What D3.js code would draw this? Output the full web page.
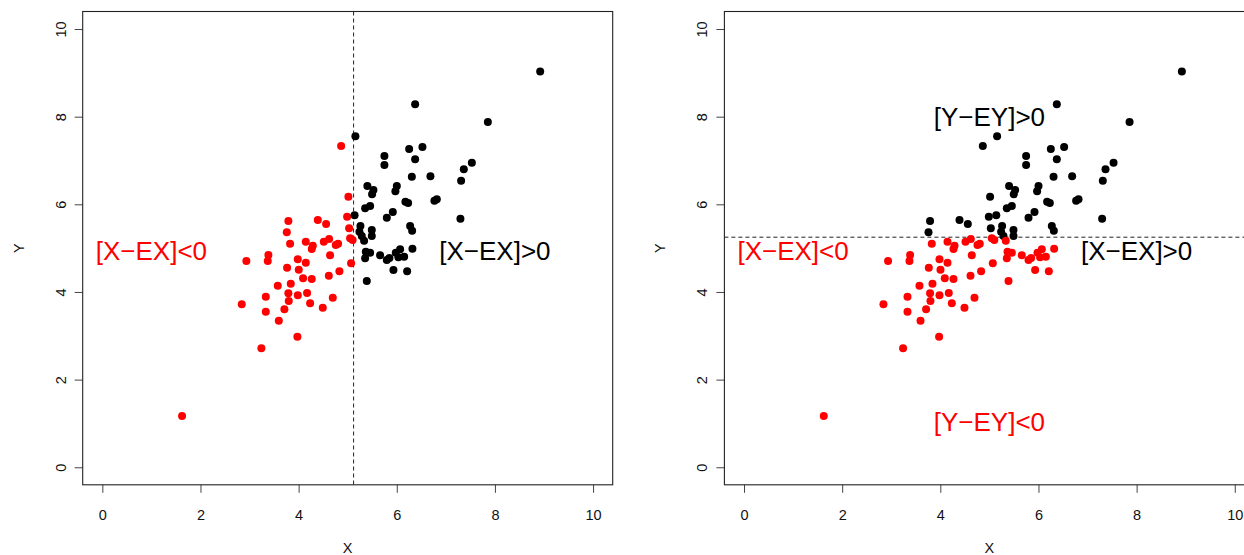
<!DOCTYPE html>
<html><head><meta charset="utf-8">
<script src="https://cdn.jsdelivr.net/npm/d3@7"></script>
<style>html,body{margin:0;padding:0;background:#fff;}svg{display:block;font-family:"Liberation Sans",Arial,Helvetica,sans-serif;}</style>
</head><body>
<svg id="chart" width="1244" height="555"></svg>
<script>
// ---- data ----
const pointX = [
 3.791,4.391,4.560,4.988,5.029,3.759,3.826,4.146,4.289,4.268,4.513,4.621,4.757,4.804,5.049,5.100,
 2.935,3.384,3.371,3.983,4.146,4.641,5.069,3.765,4.003,4.091,4.268,4.615,4.831,3.575,3.840,3.331,
 3.791,3.983,4.172,3.799,4.234,4.696,2.841,3.331,3.710,4.492,3.596,3.975,3.241,1.625,4.866,5.014,
 6.307,6.686,5.401,5.524,5.497,6.001,5.972,6.767,6.816,6.176,6.231,5.355,5.457,5.919,5.797,5.140,
 6.272,6.313,5.259,5.491,5.239,5.287,5.334,5.491,5.369,5.457,5.355,5.660,5.797,5.850,5.980,6.068,
 6.033,6.150,6.319,5.932,6.211,5.389,6.374,7.856,5.157,6.252,6.523,5.748,5.748,6.374,7.530,7.366,
 7.311,7.297,8.922
];
const pointY = [
 5.619,5.642,5.551,5.718,5.453,5.362,5.101,5.147,5.056,4.981,5.147,5.209,5.072,5.101,5.225,5.186,
 4.707,4.844,4.707,4.746,4.668,4.837,4.654,4.554,4.508,4.312,4.296,4.371,4.472,4.143,4.189,3.892,
 3.970,3.924,3.977,3.794,3.742,3.870,3.719,3.550,3.605,3.641,3.345,2.980,2.715,1.170,7.331,6.174,
 6.630,6.639,6.418,6.327,6.229,6.418,6.297,6.083,6.115,6.060,6.030,5.909,5.962,5.825,5.695,5.749,
 5.505,5.398,5.505,5.414,5.375,5.277,5.170,5.277,4.919,4.896,4.768,4.837,4.730,4.775,4.896,4.974,
 4.791,4.805,4.987,4.502,4.472,4.250,8.282,7.878,7.552,7.262,7.308,7.102,6.897,7.027,6.950,6.799,
 6.539,5.672,9.030
];
const meanX = 5.12;   // EX (vertical dashed line, left panel)
const meanY = 5.25;   // EY (horizontal dashed line, right panel)
const tickValues = [0, 2, 4, 6, 8, 10];
const axisDomain = [-0.4, 10.4];
const leftLabels = [
  {text: "[X\u2212EX]<0", x: 1, y: 4.94, color: "#FF0000"},
  {text: "[X\u2212EX]>0", x: 8, y: 4.94, color: "#000000"}
];
const rightLabels = [
  {text: "[X\u2212EX]<0", x: 1, y: 4.94, color: "#FF0000"},
  {text: "[X\u2212EX]>0", x: 8, y: 4.94, color: "#000000"},
  {text: "[Y\u2212EY]>0", x: 5, y: 8.0, color: "#000000"},
  {text: "[Y\u2212EY]<0", x: 5, y: 1.03, color: "#FF0000"}
];

const svg = d3.select("#chart");
const pts = pointX.map((x, i) => ({x, y: pointY[i]}));

function panel(left, labels, mode) {
  const x = d3.scaleLinear().domain(axisDomain).range([left, left + 530]);
  const y = d3.scaleLinear().domain(axisDomain).range([484.8, 11.5]);
  const g = svg.append("g");

  // axes (R style: ticks hanging out of the box)
  const xa = g.append("g").attr("transform", `translate(0,${y(-0.4)})`)
    .call(d3.axisBottom(x).tickValues(tickValues).tickSize(8).tickPadding(17).tickFormat(d3.format("d")));
  const ya = g.append("g").attr("transform", `translate(${x(-0.4)},0)`)
    .call(d3.axisLeft(y).tickValues(tickValues).tickSize(8).tickFormat(d3.format("d")));
  [xa, ya].forEach(a => {
    a.select(".domain").remove();
    a.selectAll(".tick line").attr("stroke", "#444");
    a.selectAll("text").attr("font-size", 14.5).attr("fill", "#111")
      .attr("font-family", "Liberation Sans, Arial, sans-serif");
  });
  ya.selectAll(".tick text").attr("transform", `translate(-22,0) rotate(-90)`)
    .attr("x", 0).attr("y", 0).attr("dy", "0.35em").attr("text-anchor", "middle");

  // box
  g.append("rect").attr("x", x(-0.4)).attr("y", y(10.4))
    .attr("width", x(10.4) - x(-0.4)).attr("height", y(-0.4) - y(10.4))
    .attr("fill", "none").attr("stroke", "#222").attr("stroke-width", 1.1);

  // axis titles
  g.append("text").attr("x", (x(-0.4) + x(10.4)) / 2).attr("y", 553)
    .attr("text-anchor", "middle").attr("font-size", 14.5).attr("fill", "#111").text("X");
  g.append("text").attr("transform", `translate(${x(-0.4) - 59},${(y(-0.4) + y(10.4)) / 2}) rotate(-90)`)
    .attr("text-anchor", "middle").attr("font-size", 14.5).attr("fill", "#111").text("Y");

  // dashed mean line
  if (mode === "x") {
    g.append("line").attr("x1", x(meanX)).attr("x2", x(meanX)).attr("y1", y(10.4)).attr("y2", y(-0.4))
      .attr("stroke", "#222").attr("stroke-dasharray", "4,3");
  } else {
    g.append("line").attr("x1", x(-0.4)).attr("x2", x(10.4)).attr("y1", y(meanY)).attr("y2", y(meanY))
      .attr("stroke", "#222").attr("stroke-dasharray", "4,3");
  }

  // points
  g.selectAll("circle.pt").data(pts).join("circle").attr("class", "pt")
    .attr("cx", d => x(d.x)).attr("cy", d => y(d.y)).attr("r", 4)
    .attr("fill", d => (mode === "x" ? d.x < meanX : d.y < meanY) ? "#FF0000" : "#000000");

  // labels
  g.selectAll("text.lab").data(labels).join("text").attr("class", "lab")
    .attr("x", d => x(d.x)).attr("y", d => y(d.y)).attr("dy", "0.35em")
    .attr("text-anchor", "middle").attr("font-size", 26).attr("fill", d => d.color)
    .text(d => d.text);
}

panel(82.7, leftLabels, "x");
panel(724.4, rightLabels, "y");
</script>
</body></html>
